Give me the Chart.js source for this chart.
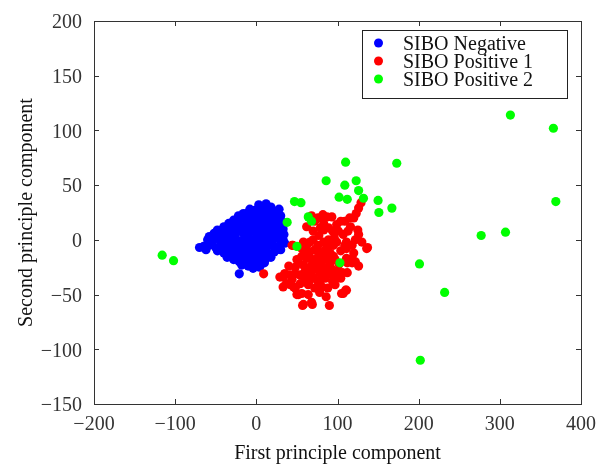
<!DOCTYPE html>
<html>
<head>
<meta charset="utf-8">
<script src="https://cdn.jsdelivr.net/npm/chart.js@4/dist/chart.umd.min.js"></script>
<style>
html,body{margin:0;padding:0;background:#fff;}
#wrap{width:600px;height:464px;}
</style>
</head>
<body>
<div id="wrap"><canvas id="c" width="600" height="464"></canvas></div>
<script>
const seriesLabels = ["SIBO Negative", "SIBO Positive 1", "SIBO Positive 2"];
const xTicks = [-200, -100, 0, 100, 200, 300, 400];
const yTicks = [-150, -100, -50, 0, 50, 100, 150, 200];

const siboNegative = [
  [3,32],[12,33],[8,29],[18,30],[28,28],[-2,27],
  [-16,24],[-10,25],[-4,23],[4,24],[14,25],[22,24],[30,22],[-22,22],
  [-34,15],[-28,18],[-20,19],[-12,18],[-6,20],[2,19],[9,18],[16,20],[24,18],[31,17],
  [-48,9],[-40,12],[-33,11],[-25,13],[-18,12],[-10,14],[-3,13],[5,12],[12,14],[19,11],[26,13],[33,10],
  [-58,3],[-52,6],[-44,5],[-37,7],[-30,6],[-22,8],[-15,5],[-8,7],[0,6],[7,8],[14,5],[21,7],[28,4],[34,5],
  [-60,0],[-54,-1],[-47,1],[-40,-2],[-33,2],[-26,0],[-19,-1],[-12,1],[-5,0],[2,-2],[9,1],[16,-1],[23,2],[30,-1],
  [-65,-6],[-58,-5],[-50,-7],[-43,-5],[-36,-8],[-29,-4],[-22,-6],[-15,-8],[-8,-5],[0,-7],[7,-4],[14,-6],[21,-5],[28,-6],
  [-48,-10],[-40,-12],[-34,-14],[-27,-11],[-20,-13],[-13,-10],[-6,-12],[1,-14],[8,-11],[15,-13],[22,-11],
  [-36,-16],[-28,-18],[-21,-20],[-14,-17],[-7,-19],[0,-16],[7,-18],[12,-17],
  [-18,-23],[-10,-24],[-4,-26],[3,-22],[-21,-31],
  [-2,10],[10,-8],[-16,-2],[-30,-9],[5,3],[-8,16],[18,16],[-44,-1],[25,-9],[33,0],
  [-70,-7],[-62,-9],[-55,-3],[-52,2],[-42,9],[-36,3],[-28,10],[-24,16],[-14,21],[-8,28],[0,22],[8,22],
  [20,27],[26,21],[32,14],[35,-3],[30,-9],[18,-16],[10,-21],[4,-25],[-2,-20],[-12,-21],[-25,-15],[-32,-12],
  [-38,-4],[-46,-8],[-26,4],[-12,9],[0,14],[12,10],[20,3],[-4,-9],[-18,-9],[6,-13],[-9,-14],[26,8]
];

const siboPositive1 = [
  [129,34],[126,29],[123,24],[120,20],[115,20],[109,17],[104,17],[99,14],[93,21],[87,21],[82,23],[76,20],[72,17],
  [83,15],[79,11],[83,9],[89,11],[94,8],[101,8],[107,5],[113,8],[125,9],[126,5],[122,0],[111,-2],[109,-5],[111,-8],
  [118,-5],[137,-7],[136,-8],[99,-2],[95,-5],[89,0],[83,-2],[76,-5],[70,0],[66,-2],[62,-5],[58,-2],[45,-5],[44,-5],
  [60,-9],[66,-11],[72,-9],[79,-12],[85,-9],[91,-12],[95,-15],[89,-17],[83,-18],[74,-17],[68,-18],[62,-17],[56,-15],
  [50,-18],[52,-21],[58,-23],[66,-25],[74,-23],[83,-25],[91,-21],[97,-18],[111,-17],[118,-17],[122,-20],[126,-24],
  [112,-21],[118,-21],[35,-31],[33,-34],[42,-32],[48,-31],[54,-32],[60,-29],[66,-31],[70,-34],[79,-31],[85,-29],[91,-31],
  [85,-35],[76,-38],[66,-37],[81,-43],[72,-44],[42,-41],[48,-44],[37,-40],[52,-50],[56,-49],[58,-59],[68,-57],[90,-60],
  [97,-41],[107,-49],[111,-46],[105,-49],[110,-46],[9,-31],[29,-34],[33,-43],[46,-43],[50,-50],[57,-60],[69,-59],[35,-31],
  [100,-28],[104,-35],[94,-38],[75,-27],[64,-41],
  [68,22],[62,12],[70,8],[77,4],[88,-6],[96,2],[104,-10],[116,12],[120,-12],[130,-2],[102,-22],[106,-30],
  [56,-8],[64,-14],[78,-22],[86,-14],[92,-26],[60,-36],[54,-40],[78,-48],[86,-52],[64,-50],[98,-34],[40,-24],
  [48,-25],[70,-27],[80,-36],[88,-44],[44,-36],[112,-30]
];

const siboPositive2 = [
  [-116,-14],[-102,-19],[38,16],[47,35],[55,34],[64,21],[68,17],[50,-6],[103,-21],[86,54],[109,50],[102,39],
  [112,37],[110,71],[123,54],[126,45],[132,38],[150,36],[151,25],[167,29],[173,70],[201,-22],[232,-48],[202,-110],
  [277,4],[307,7],[313,114],[366,102],[369,35]
];

const colors = ["#0000ff", "#ff0000", "#00ff00"];
const FONT = "'Liberation Serif', 'Times New Roman', serif";
const FS = 20;
const toPts = arr => arr.map(p => ({x: p[0], y: p[1]}));
const fmt = v => String(v).replace('-', '\u2212');

const framePlugin = {
  id: 'frame',
  afterDraw(chart) {
    const ctx = chart.ctx, a = chart.chartArea;
    const xs = chart.scales.x, ys = chart.scales.y;
    ctx.save();
    ctx.strokeStyle = '#333';
    ctx.lineWidth = 1;
    ctx.strokeRect(Math.round(a.left) + 0.5, Math.round(a.top) + 0.5, Math.round(a.right - a.left), Math.round(a.bottom - a.top));
    const tl = 5;
    ctx.beginPath();
    xTicks.forEach(v => {
      const px = Math.round(xs.getPixelForValue(v)) + 0.5;
      ctx.moveTo(px, a.bottom); ctx.lineTo(px, a.bottom - tl);
      ctx.moveTo(px, a.top); ctx.lineTo(px, a.top + tl);
    });
    yTicks.forEach(v => {
      const py = Math.round(ys.getPixelForValue(v)) + 0.5;
      ctx.moveTo(a.left, py); ctx.lineTo(a.left + tl, py);
      ctx.moveTo(a.right, py); ctx.lineTo(a.right - tl, py);
    });
    ctx.stroke();
    // legend
    const lx = 362, ly = 30, lw = 205, lh = 68;
    ctx.fillStyle = '#fff';
    ctx.fillRect(lx, ly, lw, lh);
    ctx.strokeStyle = '#222';
    ctx.strokeRect(lx + 0.5, ly + 0.5, lw, lh);
    ctx.font = FS + 'px ' + FONT;
    ctx.textBaseline = 'middle';
    ctx.textAlign = 'left';
    chart.data.datasets.forEach((ds, i) => {
      const cy = ly + 13 + i * 18;
      ctx.fillStyle = ds.backgroundColor;
      ctx.beginPath();
      ctx.arc(lx + 16.5, cy, 4.5, 0, Math.PI * 2);
      ctx.fill();
      ctx.fillStyle = '#111';
      ctx.fillText(ds.label, lx + 41, cy + 2);
    });
    ctx.restore();
  }
};

new Chart(document.getElementById('c'), {
  type: 'scatter',
  data: {
    datasets: [
      {label: seriesLabels[0], data: toPts(siboNegative), backgroundColor: colors[0], borderColor: colors[0], order: 2},
      {label: seriesLabels[1], data: toPts(siboPositive1), backgroundColor: colors[1], borderColor: colors[1], order: 1},
      {label: seriesLabels[2], data: toPts(siboPositive2), backgroundColor: colors[2], borderColor: colors[2], order: 0}
    ]
  },
  options: {
    responsive: false,
    animation: false,
    devicePixelRatio: 1,
    layout: {padding: {top: 21, right: 19, left: 0, bottom: 0}},
    elements: {point: {radius: 4.6, borderWidth: 0, hoverRadius: 4.6}},
    plugins: {legend: {display: false}, tooltip: {enabled: false}},
    scales: {
      x: {
        type: 'linear', min: -200, max: 400,
        afterBuildTicks: s => { s.ticks = xTicks.map(v => ({value: v})); },
        afterFit: s => { s.height = 60; s.paddingLeft = 0; s.paddingRight = 0; },
        grid: {display: false, drawTicks: false},
        border: {display: false},
        ticks: {padding: 9, color: '#333', font: {family: FONT, size: FS}, callback: v => fmt(v), maxRotation: 0},
        title: {display: true, text: 'First principle component', color: '#111', font: {family: FONT, size: FS}, padding: {top: 0, bottom: -2}}
      },
      y: {
        type: 'linear', min: -150, max: 200,
        afterBuildTicks: s => { s.ticks = yTicks.map(v => ({value: v})); },
        afterFit: s => { s.width = 94; s.paddingTop = 0; s.paddingBottom = 0; },
        grid: {display: false, drawTicks: false},
        border: {display: false},
        ticks: {padding: 12, labelOffset: 2, color: '#333', font: {family: FONT, size: FS}, callback: v => fmt(v)},
        title: {display: true, text: 'Second principle component', color: '#111', font: {family: FONT, size: FS}, padding: {top: 15, bottom: 0}}
      }
    }
  },
  plugins: [framePlugin]
});
</script>
</body>
</html>
